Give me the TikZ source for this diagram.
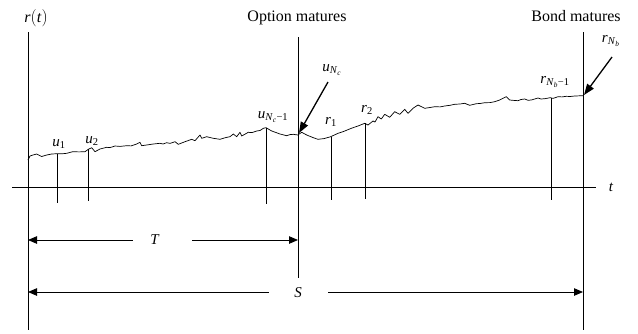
\documentclass[tikz,border=0pt]{standalone}
\usepackage{fontspec}
\setmainfont{Liberation Serif}
\usetikzlibrary{arrows.meta}
\newcommand\sbs[1]{\textsubscript{#1}}
\begin{document}
\begin{tikzpicture}[x=1pt,y=-1pt,
  lbl/.style={inner sep=0pt,font=\fontsize{15}{18}\selectfont},
  ttl/.style={inner sep=0pt,font=\fontsize{16}{19}\selectfont},
  ln/.style={line width=0.8pt},
  tk/.style={line width=0.7pt},
  ptr/.style={line width=1.3pt,-{Triangle[length=11pt,width=8pt]}},
  tip/.style={-{Triangle[length=9pt,width=7.5pt]}},
  ltip/.style={{Triangle[length=9pt,width=7.5pt]}-}]
\useasboundingbox (0,0) rectangle (638,333);
% axes and main verticals
\coordinate (ax0) at (12,187);
\coordinate (ax1) at (596,187);
\draw[ln] (ax0) -- (ax1);
\node[lbl] (t) at (611,187) {\textit{t}};
\coordinate (L0) at (28,32);  \coordinate (L1) at (28,330);
\coordinate (O0) at (298,37); \coordinate (O1) at (298,278);
\coordinate (B0) at (583,32); \coordinate (B1) at (583,330);
\draw[ln] (L0) -- (L1);
\draw[ln] (O0) -- (O1);
\draw[ln] (B0) -- (B1);
% titles
\node[ttl] (rt) at (36,18) {\textit{r}\(\big(\)\textit{t}\(\big)\)};
\node[ttl] (om) at (297,18) {Option matures};
\node[ttl] (bm) at (576,16) {Bond matures};
% path
\draw[line width=0.7pt,line join=round] (28,160) -- (30,156) -- (33,155) -- (36.7,154) -- (41.7,156.5) -- (46.7,155) -- (51.7,154) -- (57.3,153.7) -- (62,153.8) -- (66.7,153.3) -- (72.7,151.7) -- (79,151.9) -- (85,151.7) -- (88.3,149.3) -- (91.7,147.7) -- (95,151.7) -- (100,149) -- (106.7,147.3) -- (110,147.6) -- (115,146) -- (120,146.4) -- (126.7,145.7) -- (131,145.9) -- (136.7,144) -- (140,142.3) -- (141.7,145.7) -- (146.7,145) -- (153.3,144) -- (160,143.3) -- (163,144) -- (166.7,142.7) -- (170,143.4) -- (175,141.7) -- (178.3,144.3) -- (185,141.7) -- (191.7,139.3) -- (195,140.7) -- (200,135) -- (201.7,138.3) -- (206.7,136.7) -- (213.3,138.3) -- (220,139.3) -- (226,137.5) -- (230,136.7) -- (233.3,134) -- (236.7,136.7) -- (240,132.3) -- (241.7,136) -- (248.3,132.3) -- (252,132.6) -- (256.7,131) -- (260,130.5) -- (263.3,128.3) -- (266,127.7) -- (271.7,131) -- (276,132.5) -- (280,134) -- (286.7,135.7) -- (290,134.6) -- (293.3,134.3) -- (297.7,135) -- (301.7,132.3) -- (306.7,135) -- (313.3,137.7) -- (318,139.3) -- (324,138.6) -- (330.7,136.7) -- (338,133.3) -- (344,131.3) -- (351.3,128.3) -- (358,126) -- (364.7,123.3) -- (368,125) -- (373,121) -- (375,122) -- (378,116.7) -- (381.3,119) -- (384.7,114.3) -- (389.7,117.3) -- (394.7,111.7) -- (399.7,114.3) -- (404.7,109.3) -- (408,113.3) -- (413,108.3) -- (418,105) -- (424.7,108.3) -- (430,107.5) -- (434.7,106.7) -- (440,106.9) -- (444.7,106) -- (450,105.3) -- (454.7,104.3) -- (460,104) -- (464.7,103.3) -- (469.7,105.3) -- (476.3,103.7) -- (480,103.5) -- (484.7,102.7) -- (490,102.6) -- (494.7,101.7) -- (499.7,100) -- (506.3,96.7) -- (509.7,100) -- (514,100.4) -- (518,100.7) -- (521,99.5) -- (524.7,99) -- (528,100.3) -- (531.3,100) -- (538,98) -- (541,99) -- (544.7,98.7) -- (550.3,97.7) -- (553,98.4) -- (558,96.7) -- (562,96.9) -- (566.3,96.3) -- (570,96.5) -- (574.7,96) -- (583,95.7);
% sample ticks
\coordinate (u1a) at (57.5,153.7); \coordinate (u1b) at (57.5,203);
\coordinate (u2a) at (88.5,149.3); \coordinate (u2b) at (88.5,201);
\coordinate (una) at (266,127.7);  \coordinate (unb) at (266,204);
\coordinate (r1a) at (331,136.6);  \coordinate (r1b) at (331,200);
\coordinate (r2a) at (365,123.3);  \coordinate (r2b) at (365,199);
\coordinate (rna) at (551,97.7);   \coordinate (rnb) at (551,200);
\draw[tk] (u1a) -- (u1b);
\draw[tk] (u2a) -- (u2b);
\draw[tk] (una) -- (unb);
\draw[tk] (r1a) -- (r1b);
\draw[tk] (r2a) -- (r2b);
\draw[tk] (rna) -- (rnb);
% labels
\node[lbl] (lu1) at (59,144) {\textit{u}\sbs{1}};
\node[lbl] (lu2) at (92,141) {\textit{u}\sbs{2}};
\node[lbl] (luN1) at (273,117) {\textit{u}\sbs{\textit{N}\sbs{\textit{c}}−1}};
\node[lbl] (luN) at (332,70) {\textit{u}\sbs{\textit{N}\sbs{\textit{c}}}};
\node[lbl] (lr1) at (331,122) {\textit{r}\sbs{1}};
\node[lbl] (lr2) at (367,110) {\textit{r}\sbs{2}};
\node[lbl] (lrN1) at (555,82) {\textit{r}\sbs{\textit{N}\sbs{\textit{b}}−1}};
\node[lbl] (lrN) at (611,41) {\textit{r}\sbs{\textit{N}\sbs{\textit{b}}}};
% pointer arrows
\coordinate (uNs) at (328,82);  \coordinate (uNe) at (299,133);
\coordinate (rNs) at (612,57);  \coordinate (rNe) at (584,95);
\draw[ptr] (uNs) -- (uNe);
\draw[ptr] (rNs) -- (rNe);
% dimension arrows
\node[lbl] (T) at (155,240) {\textit{T}};
\node[lbl] (S) at (298,293) {\textit{S}};
\coordinate (Ta) at (28,240); \coordinate (Tb) at (133,240);
\coordinate (Tc) at (192,240); \coordinate (Td) at (298,240);
\coordinate (Sa) at (28,292); \coordinate (Sb) at (269,292);
\coordinate (Sc) at (328,292); \coordinate (Sd) at (583,292);
\draw[ln,ltip] (Ta) -- (Tb);
\draw[ln,tip] (Tc) -- (Td);
\draw[ln,ltip] (Sa) -- (Sb);
\draw[ln,tip] (Sc) -- (Sd);
\end{tikzpicture}
\end{document}
